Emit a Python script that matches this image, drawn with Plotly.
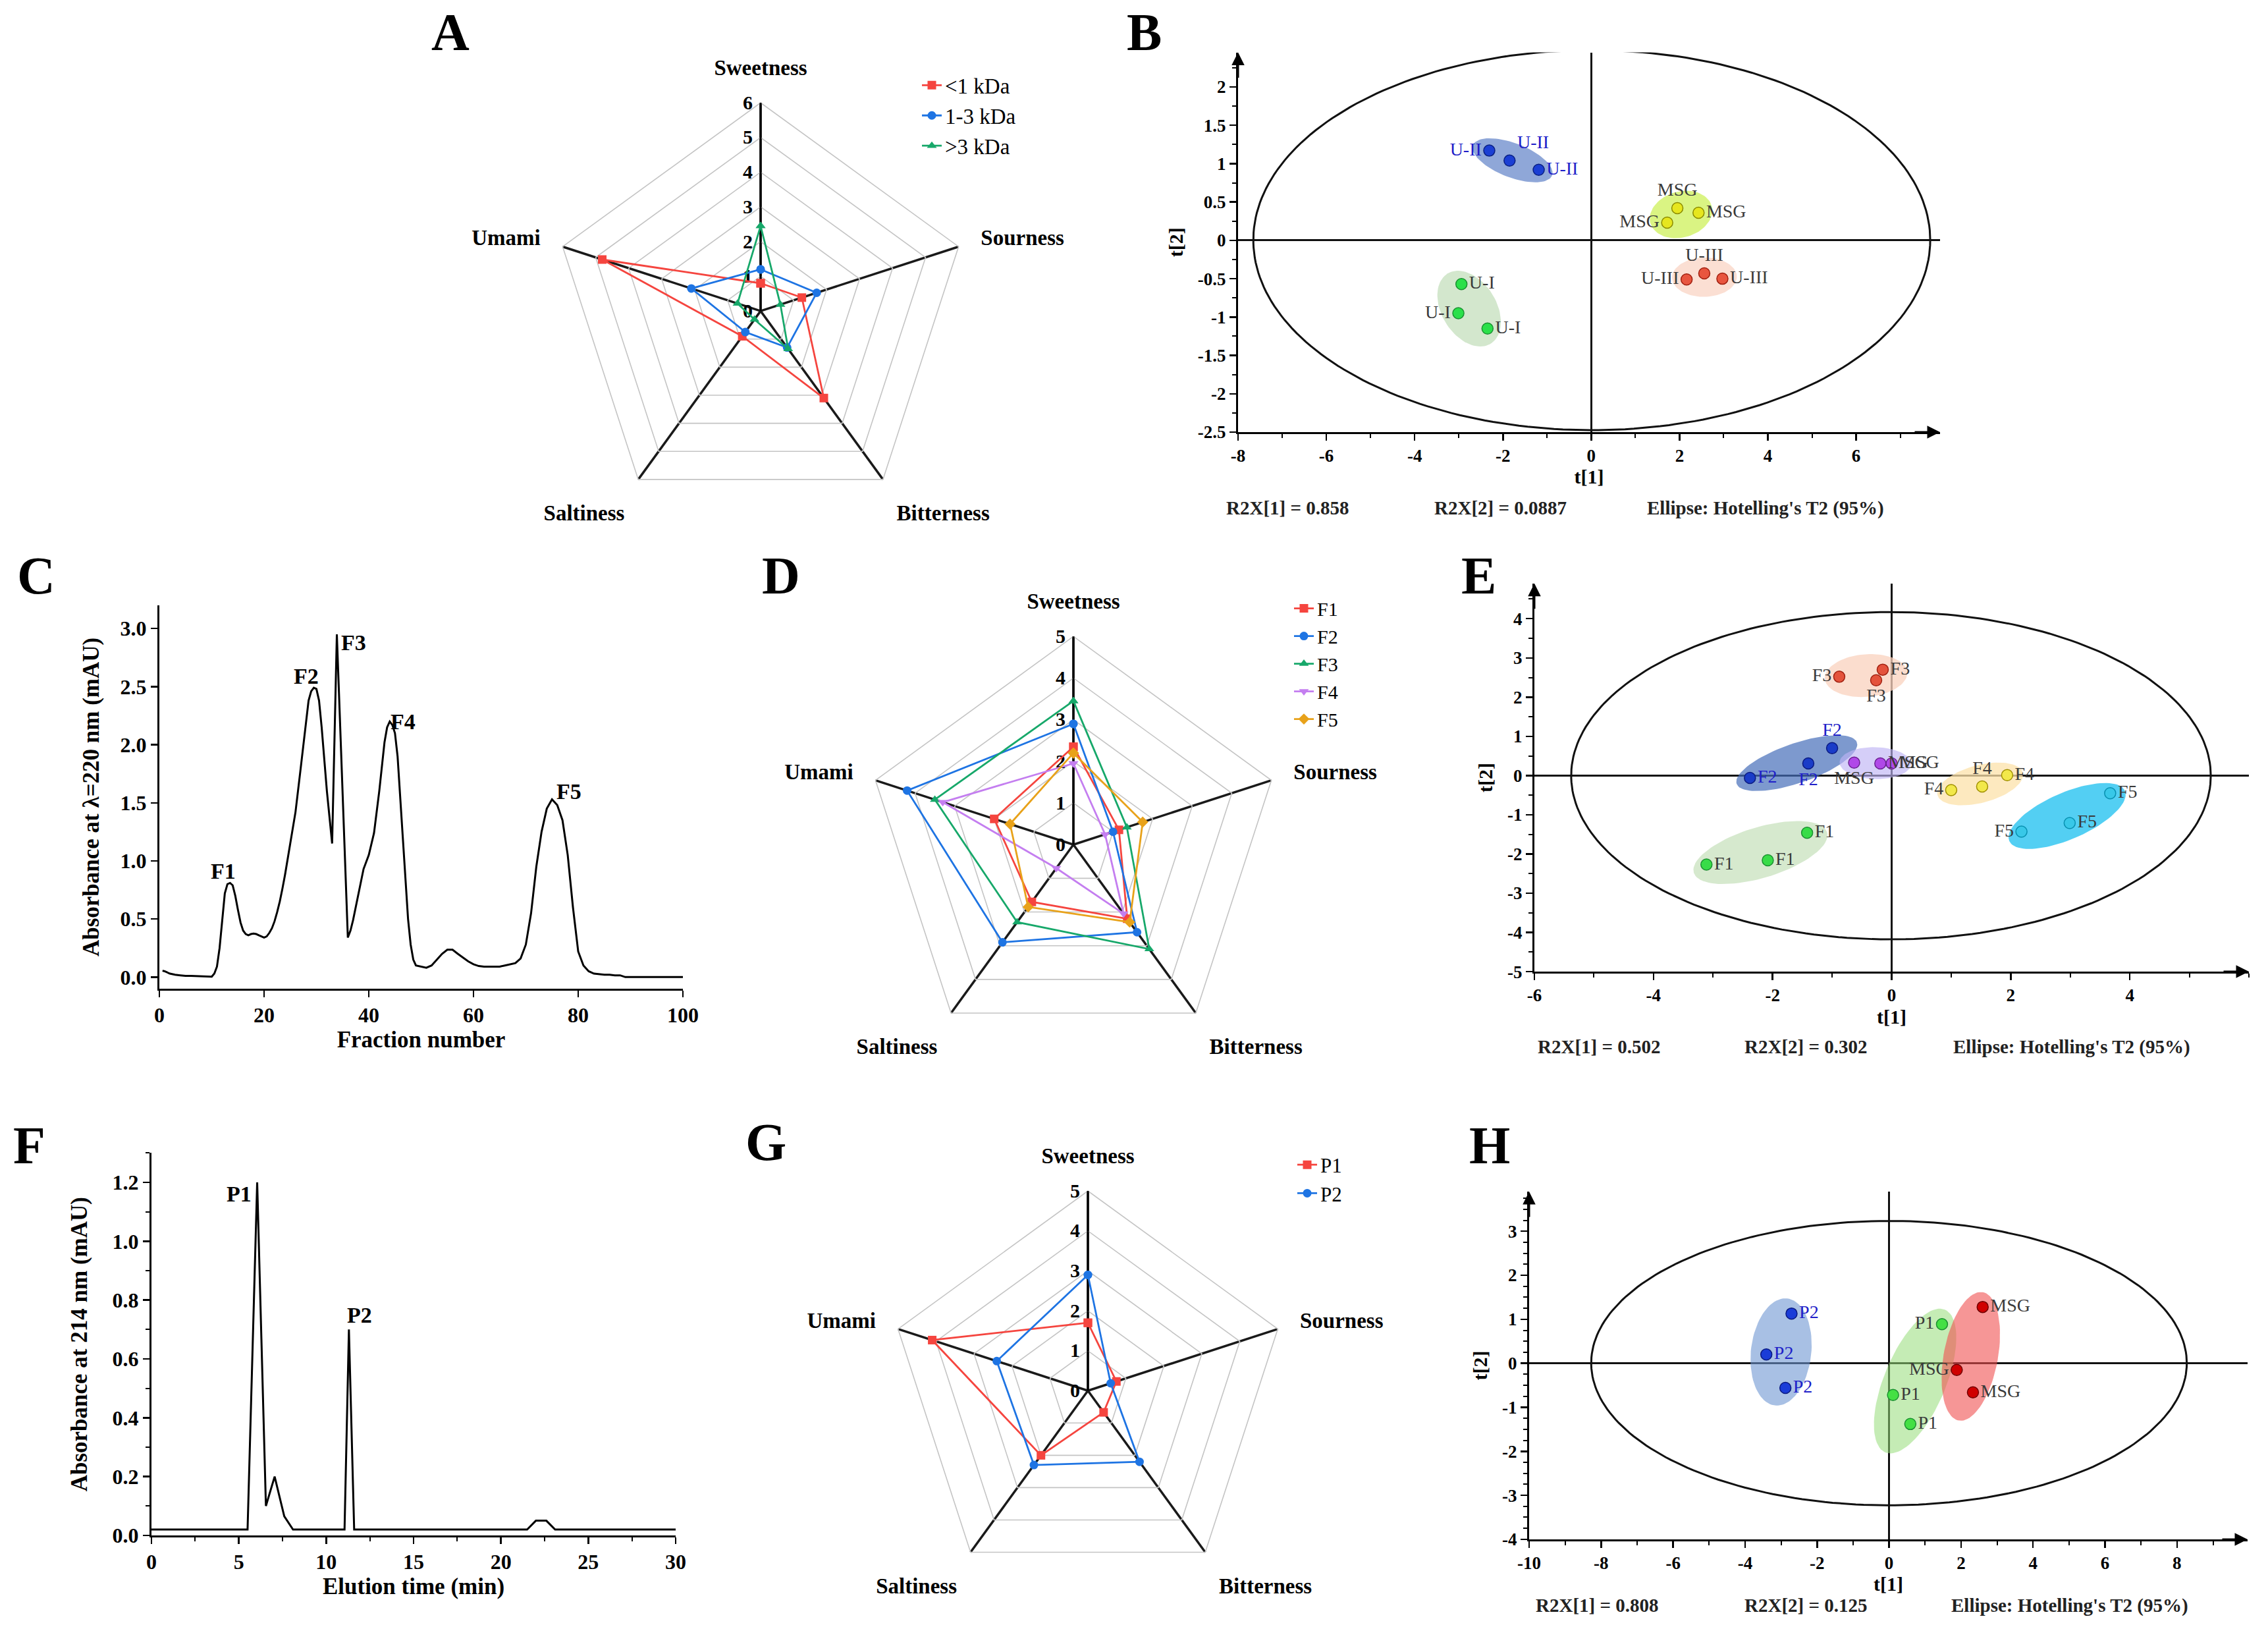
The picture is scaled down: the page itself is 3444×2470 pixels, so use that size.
import numpy as np
import plotly.graph_objects as go

W, H = 3444, 2470
SERIF = "Liberation Serif"

# ===================== DATA =====================
# --- radar charts (taste scores) ---
taste_axes = ["Sweetness", "Sourness", "Bitterness", "Saltiness", "Umami"]

a_series = ["<1 kDa", "1-3 kDa", ">3 kDa"]
a_lt1 = [0.8, 1.25, 3.1, 0.9, 4.8]
a_1to3 = [1.2, 1.7, 1.3, 0.75, 2.1]
a_gt3 = [2.45, 0.6, 1.35, 0.3, 0.7]
a_rticks = [0, 1, 2, 3, 4, 5, 6]

d_series = ["F1", "F2", "F3", "F4", "F5"]
d_f1 = [2.35, 1.15, 2.2, 1.7, 2.0]
d_f2 = [2.9, 1.0, 2.6, 2.9, 4.2]
d_f3 = [3.45, 1.35, 3.1, 2.3, 3.5]
d_f4 = [1.95, 0.8, 2.05, 0.7, 3.3]
d_f5 = [2.2, 1.75, 2.3, 1.85, 1.6]
d_rticks = [0, 1, 2, 3, 4, 5]

g_series = ["P1", "P2"]
g_p1 = [1.7, 0.75, 0.67, 2.0, 4.1]
g_p2 = [2.9, 0.6, 2.2, 2.3, 2.4]
g_rticks = [0, 1, 2, 3, 4, 5]

# --- chromatogram C (gel filtration) ---
c_fraction = [0.6, 1, 2, 3, 4, 5, 6, 7, 8, 9,
              10, 10.5, 11, 11.5, 12, 12.5, 13, 13.5, 14, 14.5,
              15, 15.5, 16, 16.5, 17, 17.5, 18, 18.5, 19, 19.5,
              20, 20.5, 21, 21.5, 22, 22.5, 23, 23.5, 24, 25,
              26, 27, 28, 28.5, 29, 29.5, 30, 30.5, 31, 32,
              33, 33.9, 36, 36.5, 37, 38, 39, 40, 41, 42,
              43, 43.5, 44, 44.5, 45, 45.5, 46, 46.5, 47, 47.5,
              48, 48.5, 49, 50, 51, 52, 53, 54, 55, 56,
              57, 58, 59, 60, 61, 62, 63, 64, 65, 66,
              67, 68, 69, 70, 71, 72, 73, 74, 75, 76,
              77, 78, 79, 80, 81, 82, 83, 84, 85, 86,
              87, 88, 89, 100]
c_absorbance = [0.055, 0.05, 0.03, 0.02, 0.015, 0.01, 0.01, 0.008, 0.005, 0.003,
                0.003, 0.03, 0.09, 0.25, 0.5, 0.72, 0.8, 0.81, 0.79, 0.7,
                0.58, 0.47, 0.4, 0.37, 0.36, 0.37, 0.375, 0.37, 0.36, 0.35,
                0.34, 0.35, 0.38, 0.42, 0.48, 0.56, 0.65, 0.76, 0.88, 1.15,
                1.42, 1.8, 2.2, 2.38, 2.46, 2.49, 2.48, 2.38, 2.15, 1.6,
                1.15, 2.95, 0.34, 0.4, 0.49, 0.72, 0.93, 1.05, 1.24, 1.6,
                2.02, 2.15, 2.2, 2.17, 2.1, 1.9, 1.55, 1.2, 0.85, 0.5,
                0.28, 0.15, 0.1, 0.09, 0.08, 0.1, 0.15, 0.2, 0.235, 0.235,
                0.2, 0.165, 0.135, 0.11, 0.095, 0.09, 0.09, 0.09, 0.09, 0.1,
                0.11, 0.12, 0.16, 0.28, 0.55, 0.95, 1.25, 1.45, 1.53, 1.48,
                1.35, 1.05, 0.6, 0.22, 0.1, 0.05, 0.03, 0.025, 0.02, 0.02,
                0.015, 0.015, 0.0, 0.0]
c_peak_names = ["F1", "F2", "F3", "F4", "F5"]
c_peak_label_x = [12.2, 28.0, 37.1, 46.6, 78.3]
c_peak_label_y = [0.91, 2.59, 2.88, 2.2, 1.6]
c_xticks = [0, 20, 40, 60, 80, 100]
c_yticks = [0.0, 0.5, 1.0, 1.5, 2.0, 2.5, 3.0]

# --- chromatogram F (RP-HPLC) ---
f_time = [0, 5.5, 6.05, 6.55, 7.05, 7.6, 8.1, 11.05, 11.3, 11.6, 21.5, 22.0, 22.6, 23.1, 30]
f_absorbance = [0.02, 0.02, 1.2, 0.1, 0.2, 0.065, 0.02, 0.02, 0.7, 0.02, 0.02, 0.05, 0.05, 0.02, 0.02]
f_peak_names = ["P1", "P2"]
f_peak_label_x = [5.0, 11.9]
f_peak_label_y = [1.16, 0.75]
f_xticks = [0, 5, 10, 15, 20, 25, 30]
f_yticks = [0.0, 0.2, 0.4, 0.6, 0.8, 1.0, 1.2]

# --- PCA B ---
b_u2_t1 = [-2.31, -1.85, -1.19]
b_u2_t2 = [1.17, 1.04, 0.92]
b_msg_t1 = [1.95, 2.43, 1.72]
b_msg_t2 = [0.42, 0.36, 0.23]
b_u3_t1 = [2.16, 2.56, 2.97]
b_u3_t2 = [-0.51, -0.43, -0.50]
b_u1_t1 = [-2.94, -3.01, -2.35]
b_u1_t2 = [-0.57, -0.95, -1.15]
b_xticks = [-8, -6, -4, -2, 0, 2, 4, 6]
b_yticks = [-2.5, -2, -1.5, -1, -0.5, 0, 0.5, 1, 1.5, 2]
b_footer = ["R2X[1] = 0.858", "R2X[2] = 0.0887", "Ellipse: Hotelling's T2 (95%)"]

# --- PCA E ---
e_f3_t1 = [-0.88, -0.26, -0.15]
e_f3_t2 = [2.52, 2.43, 2.70]
e_f2_t1 = [-1.00, -1.40, -2.38]
e_f2_t2 = [0.70, 0.31, -0.06]
e_msg_t1 = [-0.63, -0.19, 0.00]
e_msg_t2 = [0.33, 0.31, 0.31]
e_f4_t1 = [1.00, 1.52, 1.94]
e_f4_t2 = [-0.37, -0.28, 0.01]
e_f5_t1 = [3.67, 2.99, 2.18]
e_f5_t2 = [-0.45, -1.21, -1.43]
e_f1_t1 = [-1.42, -2.08, -3.11]
e_f1_t2 = [-1.46, -2.16, -2.27]
e_xticks = [-6, -4, -2, 0, 2, 4]
e_yticks = [-5, -4, -3, -2, -1, 0, 1, 2, 3, 4]
e_footer = ["R2X[1] = 0.502", "R2X[2] = 0.302", "Ellipse: Hotelling's T2 (95%)"]

# --- PCA H ---
h_p2_t1 = [-2.71, -3.41, -2.88]
h_p2_t2 = [1.13, 0.20, -0.56]
h_p1_t1 = [1.47, 0.11, 0.59]
h_p1_t2 = [0.89, -0.72, -1.38]
h_msg_t1 = [2.60, 1.88, 2.33]
h_msg_t2 = [1.28, -0.15, -0.66]
h_xticks = [-10, -8, -6, -4, -2, 0, 2, 4, 6, 8]
h_yticks = [-4, -3, -2, -1, 0, 1, 2, 3]
h_footer = ["R2X[1] = 0.808", "R2X[2] = 0.125", "Ellipse: Hotelling's T2 (95%)"]

# ===================== STYLE / LAYOUT =====================
VSCALE = 0.994  # slight vertical compaction of the layout grid


def px_x(p):
    return p / W

def px_y(p):
    return 1 - (p * VSCALE) / H

RED, BLUE, GREEN, PURPLE, ORANGE = "#F5453F", "#1E74E3", "#17A86A", "#C47EF0", "#E8A21A"

# polar domains (pixel boxes: centre x, centre y, radius)
polar_boxes = {
    "polar": (1155, 475, 318),
    "polar2": (1630, 1290, 318),
    "polar3": (1652, 2124, 305),
}
# cartesian boxes in pixels
cart = {
    "C": dict(x=(242, 1037), y=(924.5, 1510), xr=[0, 100], yr=[-0.1, 3.2]),
    "F": dict(x=(230, 1026), y=(1761, 2345), xr=[0, 30], yr=[0, 1.3]),
    "B": dict(x=(1880, 2946), y=(80, 660), xr=[-8, 7.9], yr=[-2.5, 2.45]),
    "E": dict(x=(2330, 3415), y=(891, 1484), xr=[-6, 6.0], yr=[-5, 4.9]),
    "H": dict(x=(2322, 3413), y=(1820, 2351), xr=[-10, 9.96], yr=[-4, 3.9]),
}
axis_ids = {"C": "", "F": "2", "B": "3", "E": "4", "H": "5"}

fig = go.Figure()

# ---------------- radar charts ----------------
def add_radar(subplot, legend, names, values, colors, symbols):
    for nm, vals, col, sym in zip(names, values, colors, symbols):
        fig.add_trace(go.Scatterpolar(
            r=list(vals) + [vals[0]], theta=taste_axes + [taste_axes[0]],
            mode="lines+markers", name=nm, subplot=subplot, legend=legend,
            line=dict(color=col, width=2.8),
            marker=dict(color=col, size=13, symbol=sym),
        ))

add_radar("polar", "legend", a_series, [a_lt1, a_1to3, a_gt3],
          [RED, BLUE, GREEN], ["square", "circle", "triangle-up"])
add_radar("polar2", "legend2", d_series, [d_f1, d_f2, d_f3, d_f4, d_f5],
          [RED, BLUE, GREEN, PURPLE, ORANGE],
          ["square", "circle", "triangle-up", "triangle-down", "diamond"])
add_radar("polar3", "legend3", g_series, [g_p1, g_p2], [RED, BLUE], ["square", "circle"])


def polar_layout(key, rticks):
    cx, cy, R = polar_boxes[key]
    return dict(
        domain=dict(x=[px_x(cx - R), px_x(cx + R)], y=[px_y(cy + R), px_y(cy - R)]),
        bgcolor="rgba(0,0,0,0)",
        gridshape="linear",
        radialaxis=dict(
            range=[rticks[0], rticks[-1]], tickvals=rticks, ticktext=[str(t) for t in rticks],
            showline=True, linecolor="black", linewidth=3,
            gridcolor="#C4C4C4", gridwidth=1.6, angle=90, tickangle=90,
            ticks="", side="counterclockwise", layer="below traces",
            tickfont=dict(family=SERIF, size=30, color="black", weight="bold"),
        ),
        angularaxis=dict(
            rotation=90, direction="clockwise", showline=True,
            linecolor="#C4C4C4", linewidth=1.6, gridcolor="#1a1a1a", gridwidth=3.5,
            ticks="outside", ticklen=28, tickcolor="rgba(0,0,0,0)", layer="below traces",
            tickfont=dict(family=SERIF, size=33, color="black", weight="bold"),
        ),
    )

# ---------------- chromatograms ----------------
fig.add_trace(go.Scatter(x=c_fraction, y=c_absorbance, mode="lines", showlegend=False,
                         line=dict(color="black", width=3), xaxis="x", yaxis="y"))
fig.add_trace(go.Scatter(x=f_time, y=f_absorbance, mode="lines", showlegend=False,
                         line=dict(color="black", width=3), xaxis="x2", yaxis="y2"))

# ---------------- PCA helpers ----------------
def scale_of(key):
    c = cart[key]
    sx = (c["x"][1] - c["x"][0]) / (c["xr"][1] - c["xr"][0])
    sy = (c["y"][1] - c["y"][0]) * VSCALE / (c["yr"][1] - c["yr"][0])
    return sx, sy


def group_ellipse(t1, t2, sx, sy, pad_major=22, pad_minor=24, n=90):
    P = np.column_stack([np.asarray(t1) * sx, np.asarray(t2) * sy])
    c = P.mean(axis=0)
    Q = P - c
    vals, vecs = np.linalg.eigh(Q.T @ Q)
    proj = Q @ vecs
    a = np.abs(proj[:, 1]).max() + pad_major
    b = np.abs(proj[:, 0]).max() + pad_minor
    th = np.linspace(0, 2 * np.pi, n)
    pts = c + np.outer(a * np.cos(th), vecs[:, 1]) + np.outer(b * np.sin(th), vecs[:, 0])
    return pts[:, 0] / sx, pts[:, 1] / sy


def hotelling_ellipse(t1, t2, n=240):
    t1 = np.asarray(t1, float)
    t2 = np.asarray(t2, float)
    N, A = t1.size, 2
    fcrit = (N - A) / 2 * (0.05 ** (-2 / (N - A)) - 1)
    t2crit = A * (N ** 2 - 1) / (N * (N - A)) * fcrit
    a = t1.std(ddof=1) * np.sqrt(t2crit)
    b = t2.std(ddof=1) * np.sqrt(t2crit)
    th = np.linspace(0, 2 * np.pi, n)
    return t1.mean() + a * np.cos(th), t2.mean() + b * np.sin(th)


def add_pca(key, groups):
    ax = axis_ids[key]
    xa, ya = "x" + ax, "y" + ax
    sx, sy = scale_of(key)
    for g in groups:
        ex, ey = group_ellipse(g["t1"], g["t2"], sx, sy)
        fig.add_trace(go.Scatter(x=ex, y=ey, mode="lines", fill="toself", fillcolor=g["fill"],
                                 line=dict(width=0), hoverinfo="skip", showlegend=False,
                                 xaxis=xa, yaxis=ya))
    all1 = np.concatenate([g["t1"] for g in groups])
    all2 = np.concatenate([g["t2"] for g in groups])
    hx, hy = hotelling_ellipse(all1, all2)
    fig.add_trace(go.Scatter(x=hx, y=hy, mode="lines", line=dict(color="#111111", width=3),
                             hoverinfo="skip", showlegend=False, xaxis=xa, yaxis=ya))
    for g in groups:
        fig.add_trace(go.Scatter(
            x=g["t1"], y=g["t2"], mode="markers+text", text=[g["name"]] * len(g["t1"]),
            textposition=g["pos"], cliponaxis=False, showlegend=False,
            textfont=dict(family=SERIF, size=28, color=g["tc"]),
            marker=dict(size=17, color=g["mc"], line=dict(color=g["lc"], width=1.5)),
            xaxis=xa, yaxis=ya))


DARK = "#3a3a3a"
add_pca("B", [
    dict(name="U-II", t1=b_u2_t1, t2=b_u2_t2, mc="#1B3FD4", lc="#0a2080", fill="rgba(95,130,200,0.7)",
         tc="#1E1EC8", pos=["middle left", "top right", "middle right"]),
    dict(name="MSG", t1=b_msg_t1, t2=b_msg_t2, mc="#E6E61E", lc="#8a8a00", fill="rgba(205,240,90,0.75)",
         tc=DARK, pos=["top center", "middle right", "middle left"]),
    dict(name="U-III", t1=b_u3_t1, t2=b_u3_t2, mc="#E8553F", lc="#a02010", fill="rgba(250,215,200,0.8)",
         tc=DARK, pos=["middle left", "top center", "middle right"]),
    dict(name="U-I", t1=b_u1_t1, t2=b_u1_t2, mc="#2BE04A", lc="#1a9030", fill="rgba(200,225,192,0.8)",
         tc=DARK, pos=["middle right", "middle left", "middle right"]),
])
add_pca("E", [
    dict(name="F3", t1=e_f3_t1, t2=e_f3_t2, mc="#E4533C", lc="#a02010", fill="rgba(250,210,190,0.75)",
         tc=DARK, pos=["middle left", "bottom center", "middle right"]),
    dict(name="F2", t1=e_f2_t1, t2=e_f2_t2, mc="#1A3CC8", lc="#0a1a80", fill="rgba(70,110,185,0.7)",
         tc="#2020C8", pos=["top center", "bottom center", "middle right"]),
    dict(name="MSG", t1=e_msg_t1, t2=e_msg_t2, mc="#B048E8", lc="#6a2090", fill="rgba(190,180,245,0.65)",
         tc=DARK, pos=["bottom center", "middle right", "middle right"]),
    dict(name="F4", t1=e_f4_t1, t2=e_f4_t2, mc="#F2E84A", lc="#a09000", fill="rgba(252,225,170,0.75)",
         tc=DARK, pos=["middle left", "top center", "middle right"]),
    dict(name="F5", t1=e_f5_t1, t2=e_f5_t2, mc="#38C8E8", lc="#0890b0", fill="rgba(40,195,240,0.8)",
         tc=DARK, pos=["middle right", "middle right", "middle left"]),
    dict(name="F1", t1=e_f1_t1, t2=e_f1_t2, mc="#38DC48", lc="#1a9030", fill="rgba(200,225,190,0.75)",
         tc=DARK, pos=["middle right", "middle right", "middle right"]),
])
add_pca("H", [
    dict(name="P2", t1=h_p2_t1, t2=h_p2_t2, mc="#1A3CD8", lc="#0a1a80", fill="rgba(110,150,210,0.6)",
         tc="#2020C8", pos=["middle right", "middle right", "middle right"]),
    dict(name="P1", t1=h_p1_t1, t2=h_p1_t2, mc="#44E044", lc="#1a9030", fill="rgba(150,220,120,0.55)",
         tc=DARK, pos=["middle left", "middle right", "middle right"]),
    dict(name="MSG", t1=h_msg_t1, t2=h_msg_t2, mc="#D00000", lc="#700000", fill="rgba(240,80,80,0.6)",
         tc=DARK, pos=["middle right", "middle left", "middle right"]),
])

# ---------------- axes ----------------
def fmt(v):
    return f"{v:g}"

def axis(key, which, ticks, title, tick_size, title_size, minor_dtick=None, fmt1=False,
         zeroline=False, standoff=10):
    c = cart[key]
    ax = axis_ids[key]
    if which == "x":
        dom = [px_x(c["x"][0]), px_x(c["x"][1])]
        rng = c["xr"]
    else:
        dom = [px_y(c["y"][1]), px_y(c["y"][0])]
        rng = c["yr"]
    d = dict(
        domain=dom, range=rng, anchor=("y" if which == "x" else "x") + ax,
        automargin=False,
        tickvals=ticks, ticktext=[(f"{t:.1f}" if fmt1 else fmt(t)) for t in ticks],
        showline=True, linecolor="black", linewidth=3, mirror=False,
        ticks="outside", ticklen=10, tickwidth=2.5, tickcolor="black",
        showgrid=False, zeroline=zeroline, zerolinecolor="#111111", zerolinewidth=3,
        tickfont=dict(family=SERIF, size=tick_size, color="black", weight="bold"),
        title=dict(text=title, standoff=standoff,
                   font=dict(family=SERIF, size=title_size, color="black", weight="bold")),
        fixedrange=True,
    )
    if minor_dtick:
        d["minor"] = dict(tickmode="linear", tick0=0, dtick=minor_dtick, ticks="outside",
                          ticklen=6, tickwidth=2, tickcolor="black")
    return d

layout_axes = {
    "xaxis": axis("C", "x", c_xticks, "Fraction number", 32, 35, standoff=8),
    "yaxis": axis("C", "y", c_yticks, "Absorbance at λ=220 nm (mAU)", 32, 35, fmt1=True, standoff=22),
    "xaxis2": axis("F", "x", f_xticks, "Elution time (min)", 32, 35, minor_dtick=2.5, standoff=2),
    "yaxis2": axis("F", "y", f_yticks, "Absorbance at 214 nm (mAU)", 32, 35, minor_dtick=0.1,
                   fmt1=True, standoff=28),
    "xaxis3": axis("B", "x", b_xticks, "t[1]", 27, 30, minor_dtick=1, zeroline=True, standoff=6),
    "yaxis3": axis("B", "y", b_yticks, "t[2]", 27, 30, minor_dtick=0.25, zeroline=True, standoff=14),
    "xaxis4": axis("E", "x", e_xticks, "t[1]", 27, 30, minor_dtick=1, zeroline=True, standoff=8),
    "yaxis4": axis("E", "y", e_yticks, "t[2]", 27, 30, minor_dtick=0.5, zeroline=True, standoff=14),
    "xaxis5": axis("H", "x", h_xticks, "t[1]", 27, 30, minor_dtick=1, zeroline=True, standoff=2),
    "yaxis5": axis("H", "y", h_yticks, "t[2]", 27, 30, minor_dtick=0.25, zeroline=True, standoff=14),
}

# ---------------- annotations ----------------
ann = []
letters = [("A", 684, 49), ("B", 1737, 49), ("C", 55, 879), ("D", 1186, 879),
           ("E", 2245, 879), ("F", 44, 1749), ("G", 1163, 1744), ("H", 2262, 1749)]
for t, x, y in letters:
    ann.append(dict(text=t, x=px_x(x), y=px_y(y), xref="paper", yref="paper", showarrow=False,
                    xanchor="center", yanchor="middle",
                    font=dict(family=SERIF, size=80, color="black", weight="bold")))

for nm, x, y in zip(c_peak_names, c_peak_label_x, c_peak_label_y):
    ann.append(dict(text=nm, x=x, y=y, xref="x", yref="y", showarrow=False,
                    xanchor="center", yanchor="middle",
                    font=dict(family=SERIF, size=34, color="black", weight="bold")))
for nm, x, y in zip(f_peak_names, f_peak_label_x, f_peak_label_y):
    ann.append(dict(text=nm, x=x, y=y, xref="x2", yref="y2", showarrow=False,
                    xanchor="center", yanchor="middle",
                    font=dict(family=SERIF, size=34, color="black", weight="bold")))

footers = [(b_footer, 776, [1955, 2278, 2681]),
           (e_footer, 1599, [2428, 2742, 3146]),
           (h_footer, 2452, [2425, 2742, 3143])]
for texts, y, xs in footers:
    for t, x in zip(texts, xs):
        ann.append(dict(text=t, x=px_x(x), y=px_y(y), xref="paper", yref="paper", showarrow=False,
                        xanchor="center", yanchor="middle",
                        font=dict(family=SERIF, size=29, color="#222222", weight="bold")))

# axis arrows on PCA panels
for key in ["B", "E", "H"]:
    ax = axis_ids[key]
    c = cart[key]
    ann.append(dict(x=c["xr"][1], y=c["yr"][0], xref="x" + ax, yref="y" + ax, text="",
                    showarrow=True, ax=-40, ay=0, arrowhead=2, arrowsize=1.3, arrowwidth=3,
                    arrowcolor="black"))
    ann.append(dict(x=c["xr"][0], y=c["yr"][1], xref="x" + ax, yref="y" + ax, text="",
                    showarrow=True, ax=0, ay=40, arrowhead=2, arrowsize=1.3, arrowwidth=3,
                    arrowcolor="black"))

def legend_at(x, y, size):
    return dict(x=px_x(x), y=px_y(y), xanchor="left", yanchor="top", bgcolor="rgba(0,0,0,0)",
                font=dict(family=SERIF, size=size, color="black"), tracegroupgap=0,
                itemclick=False, itemdoubleclick=False)

fig.update_layout(
    width=W, height=H, margin=dict(l=0, r=0, t=0, b=0, autoexpand=False),
    paper_bgcolor="white", plot_bgcolor="rgba(0,0,0,0)",
    polar=polar_layout("polar", a_rticks),
    polar2=polar_layout("polar2", d_rticks),
    polar3=polar_layout("polar3", g_rticks),
    legend=legend_at(1395, 102, 33),
    legend2=legend_at(1960, 903, 30),
    legend3=legend_at(1965, 1752, 31),
    annotations=ann,
    **layout_axes,
)

fig.write_html("out.html", include_plotlyjs=True, full_html=True,
               config={"displayModeBar": False, "staticPlot": True},
               post_script="document.body.style.margin='0px';document.body.style.overflow='hidden';")
